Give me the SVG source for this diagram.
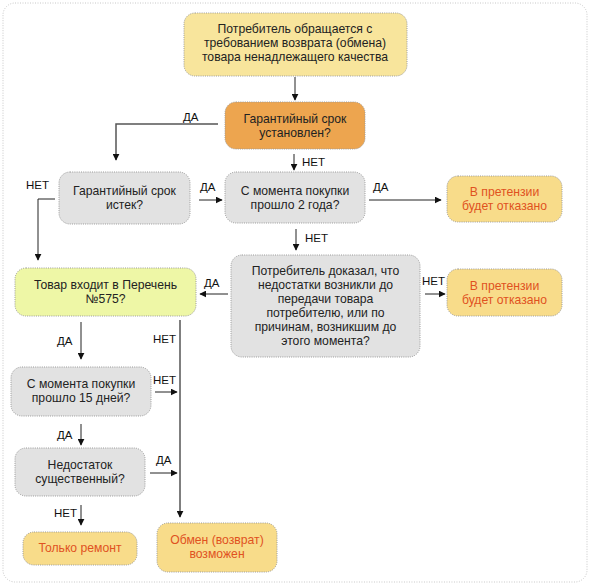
<svg xmlns="http://www.w3.org/2000/svg" width="590" height="585" viewBox="0 0 590 585">
<defs>
<marker id="ah" viewBox="0 0 10 10" refX="9" refY="5" markerWidth="7" markerHeight="7" orient="auto" markerUnits="userSpaceOnUse">
<path d="M0,0 L10,5 L0,10 z" fill="#111"/>
</marker>
<style>
.box{stroke:#9a9a9a;stroke-width:1;stroke-dasharray:1 1.2}
.y{fill:#f8e59c}
.o{fill:#eda54f}
.g{fill:#e2e2e2}
.l{fill:#eef7a6}
.r{fill:#f8dc8a}
text{font-family:"Liberation Sans",Arial,sans-serif;font-size:12.2px;fill:#222;text-anchor:middle}
.rt{fill:#e0521f}
.lab{text-anchor:start;fill:#111;font-size:11.5px}
.c{fill:none;stroke:#222;stroke-width:1}
.cg{fill:none;stroke:#555;stroke-width:1.5}
</style>
</defs>
<rect x="3" y="3" width="584" height="579" rx="12" fill="#fff" stroke="#c8c8c8" stroke-dasharray="1 1.5"/>

<g id="connectors">
<path class="c" d="M295,77 V100" marker-end="url(#ah)"/>
<path class="cg" d="M218,124 H116 V160" marker-end="url(#ah)"/>
<text class="lab" x="183" y="121">ДА</text>
<path class="c" d="M294,154 V170" marker-end="url(#ah)"/>
<text class="lab" x="302" y="166">НЕТ</text>
<path class="c" d="M199,200 H222" marker-end="url(#ah)"/>
<text class="lab" x="200" y="191">ДА</text>
<path class="c" d="M369,200 H441" marker-end="url(#ah)"/>
<text class="lab" x="373" y="191">ДА</text>
<path class="c" d="M55,199 H38 V260" marker-end="url(#ah)"/>
<text class="lab" x="26" y="189">НЕТ</text>
<path class="c" d="M296,229 V250" marker-end="url(#ah)"/>
<text class="lab" x="305" y="242">НЕТ</text>
<path class="c" d="M228,294 H200" marker-end="url(#ah)"/>
<text class="lab" x="204" y="287">ДА</text>
<path class="c" d="M425,294 H445" marker-end="url(#ah)"/>
<text class="lab" x="422" y="285">НЕТ</text>
<path class="c" d="M81,322 V359" marker-end="url(#ah)"/>
<text class="lab" x="57" y="345">ДА</text>
<path class="cg" d="M180,320 V517" marker-end="url(#ah)"/>
<text class="lab" x="153" y="343">НЕТ</text>
<path class="c" d="M155,392 H177" marker-end="url(#ah)"/>
<text class="lab" x="153" y="384">НЕТ</text>
<path class="c" d="M81,424 V445" marker-end="url(#ah)"/>
<text class="lab" x="57" y="439">ДА</text>
<path class="c" d="M150,473 H177" marker-end="url(#ah)"/>
<text class="lab" x="156" y="464">ДА</text>
<path class="c" d="M81,505 V525" marker-end="url(#ah)"/>
<text class="lab" x="54" y="517">НЕТ</text>
</g>

<g id="n1">
<rect class="box y" x="184" y="13" width="223" height="63" rx="11"/>
<text x="295" y="33">Потребитель обращается с</text>
<text x="295" y="47">требованием возврата (обмена)</text>
<text x="295" y="61">товара ненадлежащего качества</text>
</g>
<g id="n2">
<rect class="box o" x="225" y="102" width="140" height="47" rx="11"/>
<text x="295" y="123">Гарантийный срок</text>
<text x="295" y="137">установлен?</text>
</g>
<g id="n3">
<rect class="box g" x="59" y="172" width="131" height="52" rx="11"/>
<text x="124.5" y="195">Гарантийный срок</text>
<text x="124.5" y="209">истек?</text>
</g>
<g id="n4">
<rect class="box g" x="225" y="172" width="140" height="51" rx="11"/>
<text x="295" y="195">С момента покупки</text>
<text x="295" y="209">прошло 2 года?</text>
</g>
<g id="n5">
<rect class="box r" x="447" y="176" width="115" height="46" rx="11"/>
<text class="rt" x="504.5" y="196">В претензии</text>
<text class="rt" x="504.5" y="210">будет отказано</text>
</g>
<g id="n6">
<rect class="box g" x="231" y="255" width="189" height="102" rx="11"/>
<text x="325.5" y="275">Потребитель доказал, что</text>
<text x="325.5" y="289">недостатки возникли до</text>
<text x="325.5" y="303">передачи товара</text>
<text x="325.5" y="317">потребителю, или по</text>
<text x="325.5" y="331">причинам, возникшим до</text>
<text x="325.5" y="345">этого момента?</text>
</g>
<g id="n7">
<rect class="box l" x="15" y="268" width="181" height="48" rx="11"/>
<text x="105.5" y="289">Товар входит в Перечень</text>
<text x="105.5" y="303">№575?</text>
</g>
<g id="n8">
<rect class="box r" x="447" y="269" width="115" height="47" rx="11"/>
<text class="rt" x="504.5" y="290">В претензии</text>
<text class="rt" x="504.5" y="304">будет отказано</text>
</g>
<g id="n9">
<rect class="box g" x="11" y="367" width="140" height="49" rx="11"/>
<text x="81" y="388">С момента покупки</text>
<text x="81" y="402">прошло 15 дней?</text>
</g>
<g id="n10">
<rect class="box g" x="15" y="448" width="130" height="48" rx="11"/>
<text x="80" y="469">Недостаток</text>
<text x="80" y="483">существенный?</text>
</g>
<g id="n11">
<rect class="box r" x="23" y="532" width="114" height="33" rx="11"/>
<text class="rt" x="80" y="552">Только ремонт</text>
</g>
<g id="n12">
<rect class="box r" x="157" y="523" width="120" height="49" rx="11"/>
<text class="rt" x="217" y="544">Обмен (возврат)</text>
<text class="rt" x="217" y="558">возможен</text>
</g>
</svg>
